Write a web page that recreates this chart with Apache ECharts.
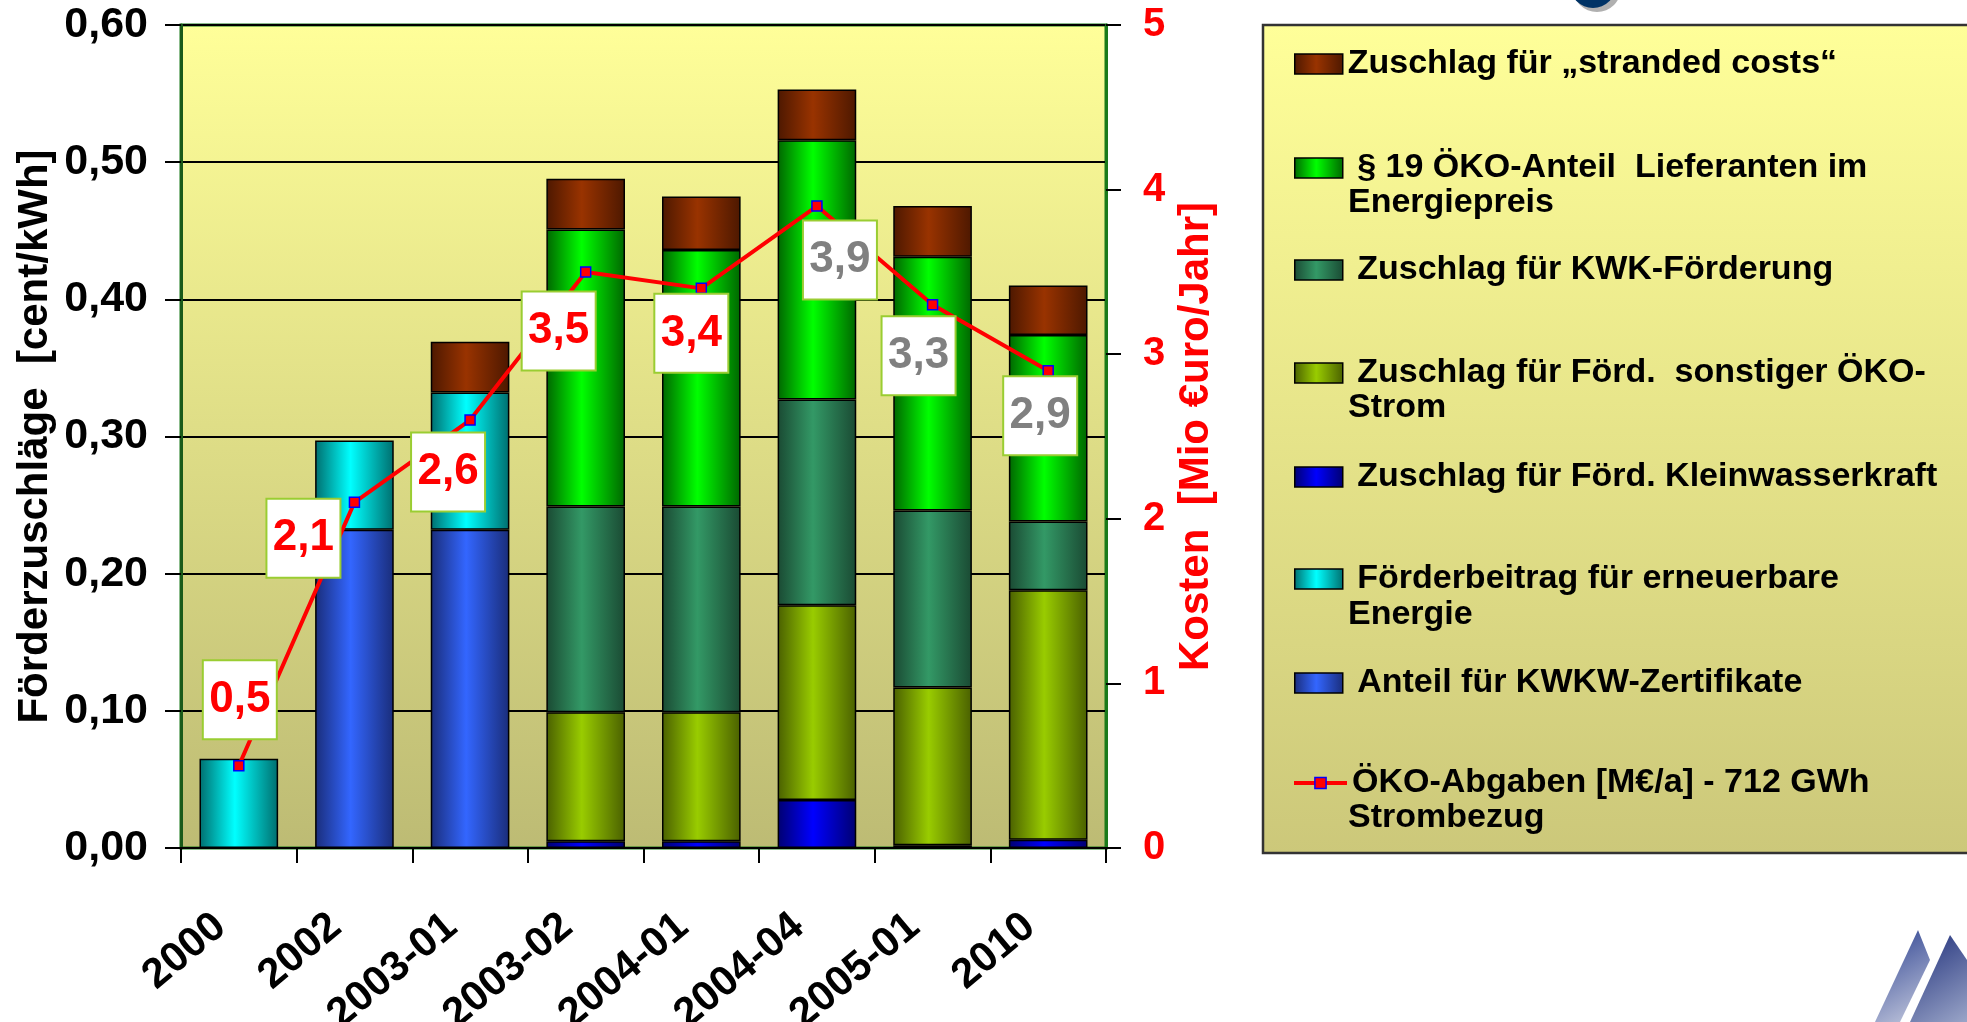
<!DOCTYPE html>
<html>
<head>
<meta charset="utf-8">
<script src="https://cdn.jsdelivr.net/npm/echarts@6/dist/echarts.min.js"></script>
<style>
html,body{margin:0;padding:0;background:#ffffff;}
#chart{width:1967px;height:1022px;}
</style>
</head>
<body>
<div id="chart"></div>
<script>
// ---- data ----
const categories = ['2000', '2002', '2003-01', '2003-02', '2004-01', '2004-04', '2005-01', '2010'];
const kwkwZertifikate = [0, 0.232, 0.232, 0, 0, 0, 0, 0];
const foerderbeitrag = [0.065, 0.065, 0.100, 0, 0, 0, 0, 0];
const kleinwasserkraft = [0, 0, 0, 0.005, 0.005, 0.035, 0.002, 0.006];
const sonstigerOeko = [0, 0, 0, 0.094, 0.094, 0.142, 0.115, 0.182];
const kwkFoerderung = [0, 0, 0, 0.150, 0.150, 0.150, 0.129, 0.050];
const oekoAnteil19 = [0, 0, 0, 0.202, 0.187, 0.189, 0.185, 0.136];
const strandedCosts = [0, 0, 0.037, 0.037, 0.039, 0.037, 0.037, 0.036];
const oekoAbgaben = [0.5, 2.1, 2.6, 3.5, 3.4, 3.9, 3.3, 2.9];
const leftTicks = ['0,00', '0,10', '0,20', '0,30', '0,40', '0,50', '0,60'];
const rightTicks = ['0', '1', '2', '3', '4', '5'];

const names = {
  stranded: 'Zuschlag für „stranded costs“',
  oeko19: ' § 19 ÖKO-Anteil  Lieferanten im Energiepreis',
  kwk: ' Zuschlag für KWK-Förderung',
  sonst: ' Zuschlag für Förd.  sonstiger ÖKO-Strom',
  klein: ' Zuschlag für Förd. Kleinwasserkraft',
  foerder: ' Förderbeitrag für erneuerbare Energie',
  kwkw: ' Anteil für KWKW-Zertifikate',
  line: 'ÖKO-Abgaben [M€/a] - 712 GWh Strombezug'
};
// legend text split into first line (next to the key) and second line
const legendFirst = {};
legendFirst[names.oeko19] = ' § 19 ÖKO-Anteil  Lieferanten im';
legendFirst[names.sonst] = ' Zuschlag für Förd.  sonstiger ÖKO-';
legendFirst[names.foerder] = ' Förderbeitrag für erneuerbare';
legendFirst[names.line] = 'ÖKO-Abgaben [M€/a] - 712 GWh';
const legendSecond = {};
legendSecond[names.oeko19] = 'Energiepreis';
legendSecond[names.sonst] = 'Strom';
legendSecond[names.foerder] = 'Energie';
legendSecond[names.line] = 'Strombezug';

// ---- styles / layout ----
const FONT = '"Liberation Sans", Arial, sans-serif';
function cyl(dark, bright) {
  return new echarts.graphic.LinearGradient(0, 0, 1, 0, [
    {offset: 0, color: dark}, {offset: 0.45, color: bright}, {offset: 1, color: dark}
  ]);
}
const labelOffsets = [[1, -66], [-51, 36], [-22, 52], [-27, 59], [-10, 45], [23, 54], [-14, 51], [-8, 45]];
const labelColors = ['#ff0000', '#ff0000', '#ff0000', '#ff0000', '#ff0000', '#808080', '#808080', '#808080'];

function barSeries(name, values, dark, bright) {
  return {
    name: name, type: 'bar', stack: 'total', barWidth: '68%',
    data: values.map(v => v === 0 ? '-' : v),
    itemStyle: {color: cyl(dark, bright), borderColor: '#000000', borderWidth: 1.5},
    emphasis: {disabled: true}
  };
}

const series = [
  barSeries(names.kwkw, kwkwZertifikate, '#1a2d7a', '#3366ff'),
  barSeries(names.foerder, foerderbeitrag, '#006e6e', '#00ffff'),
  barSeries(names.klein, kleinwasserkraft, '#000070', '#0000ff'),
  barSeries(names.sonst, sonstigerOeko, '#4a6000', '#99cc00'),
  barSeries(names.kwk, kwkFoerderung, '#1a4a33', '#339966'),
  barSeries(names.oeko19, oekoAnteil19, '#006600', '#00ff00'),
  barSeries(names.stranded, strandedCosts, '#4d1800', '#993300'),
  {
    name: names.line, type: 'line', yAxisIndex: 1, z: 10,
    symbol: 'rect', symbolSize: 10,
    lineStyle: {color: '#ff0000', width: 4},
    itemStyle: {color: '#ff0000', borderColor: '#0000ff', borderWidth: 1.5},
    emphasis: {disabled: true},
    data: oekoAbgaben.map((v, i) => ({
      value: v,
      label: {offset: labelOffsets[i], color: labelColors[i]}
    })),
    label: {
      show: true, position: 'inside',
      formatter: p => String(p.value).replace('.', ','),
      fontFamily: FONT, fontWeight: 'bold', fontSize: 44,
      backgroundColor: '#ffffff', borderColor: '#9acd32', borderWidth: 2,
      width: 72, height: 77, lineHeight: 77, align: 'center', verticalAlign: 'middle', padding: 0
    }
  }
];

const legendCenters = [59, 163, 265, 368, 472, 574, 678, 778];
const legendOrder = [names.stranded, names.oeko19, names.kwk, names.sonst, names.klein, names.foerder, names.kwkw, names.line];
const legendTextStyle = {fontFamily: FONT, fontWeight: 'bold', fontSize: 34, color: '#000000', lineHeight: 40};
const legends = legendOrder.map((n, i) => {
  const isLine = n === names.line;
  return {
    data: [isLine ? {name: n} : {name: n, icon: 'rect'}],
    left: isLine ? 1287 : 1289, top: legendCenters[i] - 20, orient: 'vertical',
    itemWidth: isLine ? 53 : 48, itemHeight: isLine ? 14 : 20, itemGap: 0, selectedMode: false,
    formatter: nm => legendFirst[nm] || nm,
    textStyle: legendTextStyle,
    itemStyle: isLine ? {color: '#ff0000', borderColor: '#0000ff', borderWidth: 1.5}
                      : {borderColor: '#000000', borderWidth: 1.5},
    lineStyle: isLine ? {color: '#ff0000', width: 4} : undefined
  };
});
const secondLineCenters = {};
secondLineCenters[names.oeko19] = 203;
secondLineCenters[names.sonst] = 408;
secondLineCenters[names.foerder] = 615;
secondLineCenters[names.line] = 818;
const secondLines = Object.keys(legendSecond).map(n => ({
  type: 'text', x: 1348, y: secondLineCenters[n], z: 5,
  style: {
    text: legendSecond[n], fill: '#000000', font: 'bold 34px ' + FONT,
    textAlign: 'left', textVerticalAlign: 'middle'
  }
}));

const option = {
  animation: false,
  backgroundColor: '#ffffff',
  grid: {
    left: 181, top: 25, width: 925, height: 823, show: true,
    outerBoundsMode: 'none', containLabel: false,
    borderColor: '#1a7a1a', borderWidth: 3,
    backgroundColor: new echarts.graphic.LinearGradient(0, 0, 0, 1, [
      {offset: 0, color: '#ffff99'}, {offset: 1, color: '#bdbb74'}
    ])
  },
  legend: legends,
  xAxis: {
    type: 'category', data: categories, boundaryGap: true,
    axisLine: {lineStyle: {color: '#000000', width: 2}},
    axisTick: {show: true, length: 15, lineStyle: {color: '#000000', width: 2}},
    axisLabel: {
      interval: 0, rotate: 40, margin: 58, padding: [0, 24, 0, 0],
      fontFamily: FONT, fontWeight: 'bold', fontSize: 42, color: '#000000'
    }
  },
  yAxis: [
    {
      type: 'value', min: 0, max: 0.6, interval: 0.1, position: 'left',
      name: 'Förderzuschläge  [cent/kWh]', nameLocation: 'middle', nameGap: 125, nameRotate: 90,
      nameTextStyle: {fontFamily: FONT, fontWeight: 'bold', fontSize: 42, color: '#000000'},
      axisLine: {show: true, lineStyle: {color: '#1a5a1a', width: 3}},
      axisTick: {show: true, length: 16, lineStyle: {color: '#000000', width: 2}},
      splitLine: {show: true, lineStyle: {color: '#000000', width: 2}},
      axisLabel: {
        margin: 33, fontFamily: FONT, fontWeight: 'bold', fontSize: 43, color: '#000000',
        formatter: (v) => leftTicks[Math.round(v * 10)]
      }
    },
    {
      type: 'value', min: 0, max: 5, interval: 1, position: 'right',
      name: 'Kosten  [Mio €uro/Jahr]', nameLocation: 'middle', nameGap: 69, nameRotate: 90,
      nameTextStyle: {fontFamily: FONT, fontWeight: 'bold', fontSize: 42, color: '#ff0000'},
      axisLine: {show: true, lineStyle: {color: '#1a7a1a', width: 3}},
      axisTick: {show: true, length: 15, lineStyle: {color: '#000000', width: 2}},
      splitLine: {show: false},
      axisLabel: {
        margin: 37, fontFamily: FONT, fontWeight: 'bold', fontSize: 40, color: '#ff0000',
        formatter: (v) => rightTicks[Math.round(v)]
      }
    }
  ],
  graphic: [
    {
      type: 'rect', z: -1, shape: {x: 1263, y: 25, width: 720, height: 828},
      style: {
        fill: new echarts.graphic.LinearGradient(0, 0, 0, 1, [
          {offset: 0, color: '#ffff99'}, {offset: 1, color: '#ccc87a'}
        ]),
        stroke: '#333333', lineWidth: 2.5
      }
    },
    {type: 'circle', z: -2, shape: {cx: 1597, cy: -12, r: 24}, style: {fill: '#b0b0b0'}},
    {type: 'circle', z: -2, shape: {cx: 1593, cy: -15, r: 23}, style: {fill: '#003366'}},
    {type: 'polygon', shape: {points: [[1918, 930], [1875, 1022], [1900, 1022], [1930, 960]]},
      style: {fill: new echarts.graphic.LinearGradient(0, 0, 1, 1, [{offset: 0, color: '#2a3f8f'}, {offset: 1, color: '#c8cde0'}])}},
    {type: 'polygon', shape: {points: [[1950, 935], [1910, 1022], [1967, 1022], [1967, 960]]},
      style: {fill: new echarts.graphic.LinearGradient(0, 0, 1, 1, [{offset: 0, color: '#1f2f7a'}, {offset: 1, color: '#9aa5c8'}])}}
  ].concat(secondLines),
  series: series
};

const chart = echarts.init(document.getElementById('chart'), null, {renderer: 'canvas'});
chart.setOption(option);
</script>
</body>
</html>
